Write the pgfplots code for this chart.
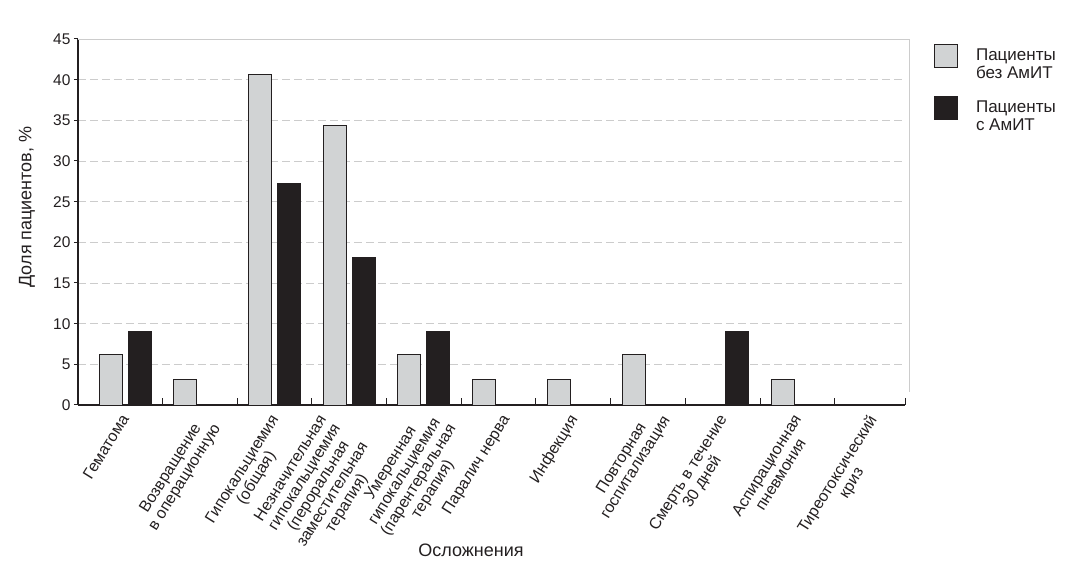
\documentclass[border=0pt]{standalone}
\usepackage{fontspec}
\setmainfont{Liberation Sans}
\usepackage{pgfplots}
\pgfplotsset{compat=1.18}
\definecolor{barg}{HTML}{D1D3D4}
\definecolor{bark}{HTML}{231F20}
\definecolor{gridc}{HTML}{CCCCCC}
\pgfplotsset{mylegend/.style={legend image code/.code={\draw[##1] (0pt,-3pt) rectangle (23pt,20pt);}}}
\begin{document}
\begin{tikzpicture}
\useasboundingbox (-78pt,-162pt) rectangle (996pt,405pt);
\begin{axis}[
  at={(0pt,0pt)}, anchor=south west,
  scale only axis, width=827pt, height=366pt,
  xmin=-0.63, xmax=10.44, ymin=0, ymax=45,
  axis x line*=bottom, axis y line*=left,
  axis line style={line width=1.1pt, color=bark},
  ybar, bar width=23pt,
  ytick={0,5,...,45},
  ymajorgrids,
  grid style={gridc, line width=0.8pt, dash pattern=on 8pt off 4pt},
  tick align=outside,
  major tick length=4pt,
  minor tick length=7pt,
  major y tick style={bark, line width=1pt},
  xtick={0,1.033,2,2.64,5.094,6,8,9,10},
  major x tick style={draw=none},
  minor xtick={0.5,1.5,2.5,3.5,4.5,5.5,6.5,7.5,8.5,9.5,10.44},
  minor x tick style={draw=bark, line width=1pt, yshift=7pt},
  /pgf/number format/assume math mode=true,
  yticklabel style={font=\fontsize{15.5}{17}\selectfont, color=bark},
  xticklabels={Гематома, {Возвращение\\в операционную}, {Гипокальциемия\\(общая)}, {Незначительная\\гипокальциемия\\(пероральная\\заместительная\\терапия)}, Паралич нерва, Инфекция, {Смерть в течение\\30 дней}, {Аспирационная\\пневмония}, {Тиреотоксический\\криз}},
  xticklabel style={font=\fontsize{16}{16.5}\selectfont, color=bark, yshift=-4pt, xshift=-5pt, rotate=58, anchor=north east, align=center, inner sep=0pt},
  extra x ticks={4,7.054},
  extra x tick labels={{Умеренная\\гипокальциемия\\(парентеральная\\терапия)}, {Повторная\\госпитализация}},
  extra x tick style={tick style={draw=none}, xticklabel shift=-8pt},
  ylabel={Доля пациентов, \%},
  ylabel style={at={(axis description cs:-0.0617,0.541)}, anchor=center, color=bark, font=\fontsize{18}{20}\selectfont},
  xlabel={Осложнения},
  xlabel style={at={(axis description cs:0.4752,-0.396)}, anchor=center, color=bark, font=\fontsize{18}{20}\selectfont},
  legend style={at={(axis description cs:1.0351,0.9863)}, anchor=north west, draw=none, fill=none,
    font=\fontsize{17}{17.5}\selectfont, text=bark, row sep=14pt, column sep=16pt, inner sep=0pt,
    cells={align=left, anchor=west}},
  after end axis/.code={
    \draw[gridc, line width=0.8pt] (rel axis cs:0,1) -- ([xshift=4pt]rel axis cs:1,1) -- ([xshift=4pt]rel axis cs:1,0.035);
  },
]
\addplot[fill=barg, draw=bark, line width=0.8pt, bar shift=-14.5pt, mylegend]
  coordinates {(0,6.25) (1,3.125) (2,40.6) (3,34.4) (4,6.25) (5,3.125) (6,3.125) (7,6.25) (9,3.125)};
\addlegendentry{Пациенты\\без АмИТ}
\addplot[fill=bark, draw=bark, line width=0.8pt, bar shift=14.5pt, mylegend]
  coordinates {(0,9.09) (2,27.27) (3,18.18) (4,9.09) (8,9.09)};
\addlegendentry{Пациенты\\с АмИТ}
\end{axis}
\end{tikzpicture}
\end{document}
